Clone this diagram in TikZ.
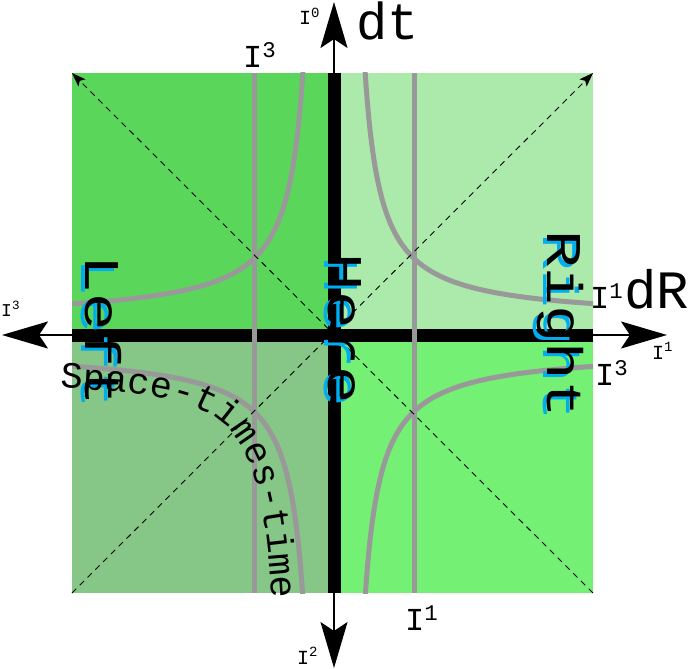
\documentclass[tikz,border=0pt]{standalone}
\usepackage{fontspec}
\setmainfont{Liberation Mono}
\usetikzlibrary{arrows.meta,decorations.text}

\definecolor{tlgreen}{HTML}{5AD75B}
\definecolor{trgreen}{HTML}{ABEAAA}
\definecolor{blgreen}{HTML}{86C686}
\definecolor{brgreen}{HTML}{74F074}
\definecolor{linegray}{HTML}{999999}

\newcommand{\fsz}[1]{\fontsize{#1}{#1}\selectfont}

\begin{document}
\begin{tikzpicture}[
  x=1pt, y=-1pt,
  worldline/.style={draw=linegray, line width=5pt},
  bar/.style={draw=black, line width=13pt},
  axis/.style={line width=2pt, -{Stealth[length=46pt,width=27pt,inset=9pt]}},
  lightray/.style={line width=0.9pt, dash pattern=on 6pt off 5pt, -{Stealth[length=14pt,width=10pt,inset=3pt]}},
  tag/.style={inner sep=0pt, anchor=base west, font=\fsz{#1}},
  region/.style={inner sep=0pt, anchor=base, rotate=-90, xscale=1.25, font=\fsz{50}},
  glow/.style={region, text=cyan}
]
\useasboundingbox (0,0) rectangle (699,669);

% quadrants
\fill[tlgreen] (72,73) rectangle (334,335);
\fill[trgreen] (334,73) rectangle (593,335);
\fill[blgreen] (72,335) rectangle (334,593);
\fill[brgreen] (334,335) rectangle (593,593);

\coordinate (origin) at (334,335);
\coordinate (west) at (2,335);
\coordinate (east) at (667,335);
\coordinate (north) at (334,2);
\coordinate (south) at (334,668);
\coordinate (l) at (72,335);
\coordinate (r) at (593,335);
\coordinate (t) at (334,73);
\coordinate (b) at (334,593);
\coordinate (nw) at (72,73);
\coordinate (ne) at (593,73);
\coordinate (sw) at (72,593);
\coordinate (se) at (593,593);

% axes
\draw[axis] (origin) -- (west);
\draw[axis] (origin) -- (east);
\draw[axis] (origin) -- (north);
\draw[axis] (origin) -- (south);
\draw[bar] (l) -- (r);
\draw[bar] (t) -- (b);

% world lines
\begin{scope}
  \clip (nw) rectangle (se);
  \foreach \sx/\sy in {1/1,1/-1,-1/1,-1/-1}
    \draw[worldline] plot[domain=-1.7:1.7, samples=60, smooth]
      ({334+\sx*(15+63.25*exp(\x))}, {335+\sy*(15+63.25*exp(-\x))});
  \draw[worldline] (254,73) -- (254,593);
  \draw[worldline] (414,73) -- (414,593);
\end{scope}

% light cone
\draw[lightray] (sw) -- (ne);
\draw[lightray] (se) -- (nw);

% regions
\node[glow] (leftg) at (81,334) {Left};
\node[region] (left) at (85,331) {Left};
\node[glow] (hereg) at (324,332) {Here};
\node[region] (here) at (328,329) {Here};
\node[glow] (rightg) at (543,327) {Right};
\node[region] (right) at (547,324) {Right};

\path[decorate, decoration={text along path, text align=left,
    text={|\fsz{37}|Space-times-time}}]
  (60,388) .. controls (150,392) and (210,400) .. (236,438)
  .. controls (258,470) and (272,520) .. (274,660);

% labels
\node[tag=20] (i0) at (299,25) {I\textsuperscript{0}};
\node[tag=52] (dt) at (356,40) {dt};
\node[tag=32] (i3top) at (243,67) {I\textsuperscript{3}};
\node[tag=18] (i3left) at (1,316) {I\textsuperscript{3}};
\node[tag=32] (i1right) at (590,308) {I\textsuperscript{1}};
\node[tag=54] (dR) at (624,308) {dR};
\node[tag=20] (i1east) at (652,359) {I\textsuperscript{1}};
\node[tag=32] (i3right) at (595,385) {I\textsuperscript{3}};
\node[tag=32] (i1bottom) at (405,630) {I\textsuperscript{1}};
\node[tag=20] (i2) at (297,664) {I\textsuperscript{2}};
\end{tikzpicture}
\end{document}
